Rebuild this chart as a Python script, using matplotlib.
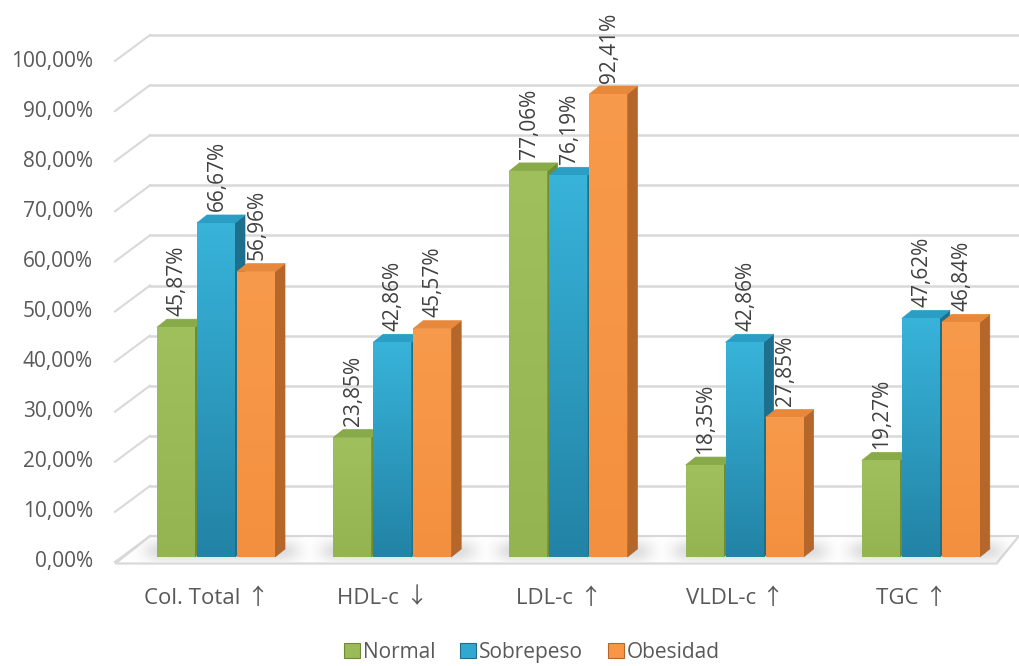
import numpy as np
import matplotlib
matplotlib.use("Agg")
import matplotlib.pyplot as plt
from matplotlib.patches import Polygon, Patch
from matplotlib.colors import to_rgb
from matplotlib.offsetbox import TextArea, HPacker, AnnotationBbox

plt.rcParams['font.family'] = ['Open Sans', 'DejaVu Sans']

# ---- data -------------------------------------------------------------
categories = ["Col. Total", "HDL-c", "LDL-c", "VLDL-c", "TGC"]
category_arrows = ["\u2191", "\u2193", "\u2191", "\u2191", "\u2191"]
series_names = ["Normal", "Sobrepeso", "Obesidad"]
normal = [45.87, 23.85, 77.06, 18.35, 19.27]
sobrepeso = [66.67, 42.86, 76.19, 42.86, 47.62]
obesidad = [56.96, 45.57, 92.41, 27.85, 46.84]
y_ticks = [0, 10, 20, 30, 40, 50, 60, 70, 80, 90, 100]

series = [normal, sobrepeso, obesidad]

# ---- styling ----------------------------------------------------------
front_grad = [("#a0c05d", "#93b451"), ("#38b3da", "#2283a5"), ("#f89a4b", "#f3903f")]
top_col = ["#88aa48", "#2b9ec6", "#e7883b"]
side_col = ["#6e8b35", "#1d6f8c", "#b5662a"]
legend_col = ["#9bbb59", "#31a8d0", "#f79646"]
text_col = "#595959"
grid_col = "#d9d9d9"
FS = 15

W, H, DPI = 10.19, 6.66, 100
fig = plt.figure(figsize=(W, H), dpi=DPI)
ax = fig.add_axes([0, 0, 1, 1])

# one x unit = one category, one y unit = one percentage point
px_x = 176.2
px_y = 5.01
x0_px, y0_px = 216.0, 557.0
ax.set_xlim(-x0_px / px_x, (W * DPI - x0_px) / px_x)
ax.set_ylim((y0_px - H * DPI) / px_y, y0_px / px_y)
ax.axis("off")

# perspective offsets (data units)
back_dx, back_dy = -66 / px_x, 21 / px_y       # back wall vs bar base
side_dx, side_dy = -101 / px_x, -5 / px_y      # front edge of side wall
depth_dx, depth_dy = 10 / px_x, 8 / px_y       # bar depth
bar_step, bar_w = 40 / px_x, 38 / px_x
xmax = ax.get_xlim()[1]

# ---- walls & floor ----------------------------------------------------
floor = Polygon([(side_dx + 0.002, side_dy - 0.3), (4.43, side_dy - 0.3),
                 (xmax, back_dy), (back_dx, back_dy)],
                closed=True, facecolor="white", edgecolor=grid_col, lw=1.6, zorder=1)
ax.add_patch(floor)

for v in y_ticks:
    if v > 0:
        ax.plot([back_dx, xmax], [v + back_dy, v + back_dy], color=grid_col, lw=1.8, zorder=0.5)
    ax.plot([side_dx, back_dx], [v + side_dy, v + back_dy], color=grid_col, lw=1.5, zorder=0.5)
    ax.text(side_dx - 22 / px_x, v + side_dy, f"{v:.2f}".replace(".", ",") + "%",
            ha="right", va="center", fontsize=FS, color=text_col)

# soft shadow of the bar groups on the floor
gx = np.linspace(back_dx - 0.3, xmax, 900)
gy = np.linspace(side_dy, back_dy, 60)
GX, GY = np.meshgrid(gx, gy)
alpha = np.zeros_like(GX)
for i in range(len(categories)):
    left = i - 1.5 * bar_step
    right = i + 1.5 * bar_step + depth_dx
    sx = 1 / (1 + np.exp(-(GX - (left - 0.05)) / 0.03)) * 1 / (1 + np.exp((GX - (right + 0.06)) / 0.03))
    sy = np.exp(-((GY - 1.2) / 2.2) ** 2)
    alpha = np.maximum(alpha, 0.28 * sx * sy)
shadow = np.zeros(GX.shape + (4,))
shadow[..., :3] = 0.5
shadow[..., 3] = alpha
im = ax.imshow(shadow, extent=(gx[0], gx[-1], gy[0], gy[-1]), origin="lower",
               aspect="auto", zorder=1.2, interpolation="bilinear")
im.set_clip_path(floor)

# ---- bars -------------------------------------------------------------
def gradient_face(poly_pts, c_top, c_bot, z):
    poly = Polygon(poly_pts, closed=True, facecolor="none", edgecolor="none", zorder=z)
    ax.add_patch(poly)
    ys = np.array([p[1] for p in poly_pts])
    xs = np.array([p[0] for p in poly_pts])
    t = np.linspace(0, 1, 128)[:, None]
    ct, cb = np.array(to_rgb(c_top)), np.array(to_rgb(c_bot))
    img = cb[None, None, :] * (1 - t[..., None]) + ct[None, None, :] * t[..., None]
    img = np.repeat(img, 2, axis=1)
    g = ax.imshow(img, extent=(xs.min(), xs.max(), ys.min(), ys.max()), origin="lower",
                  aspect="auto", zorder=z, interpolation="bilinear")
    g.set_clip_path(poly)

for i in range(len(categories)):
    for s, vals in enumerate(series):
        v = vals[i]
        xl = i + (s - 1.5) * bar_step + (bar_step - bar_w) / 2
        xr = xl + bar_w
        z = 2 + s * 0.1
        # right side face
        ax.add_patch(Polygon([(xr, 0), (xr + depth_dx, depth_dy), (xr + depth_dx, v + depth_dy), (xr, v)],
                             closed=True, facecolor=side_col[s], edgecolor=side_col[s], lw=0.5, zorder=z))
        # top face
        ax.add_patch(Polygon([(xl, v), (xr, v), (xr + depth_dx, v + depth_dy), (xl + depth_dx, v + depth_dy)],
                             closed=True, facecolor=top_col[s], edgecolor=top_col[s], lw=0.5, zorder=z))
        # front face
        gradient_face([(xl, 0), (xr, 0), (xr, v), (xl, v)], front_grad[s][0], front_grad[s][1], z + 0.01)
        # value label
        ax.text((xl + xr) / 2 + 1 / px_x, v + depth_dy + 0.7, f"{v:.2f}".replace(".", ",") + "%",
                rotation=90, ha="center", va="bottom", fontsize=FS, color="#404040", zorder=5)

# category labels: name followed by a full-width arrow
for i, (c, arr) in enumerate(zip(categories, category_arrows)):
    name = TextArea(c + " ", textprops=dict(fontsize=FS + 1, color=text_col, family=["Open Sans"]))
    arrow = TextArea(arr, textprops=dict(fontsize=FS + 1, color=text_col,
                                         family=["Noto Sans CJK JP", "DejaVu Sans"]))
    box = HPacker(children=[name, arrow], align="baseline", pad=0, sep=0)
    ab = AnnotationBbox(box, (i - 10 / px_x, -40 / px_y), xycoords="data", frameon=False,
                        box_alignment=(0.5, 0.5), pad=0)
    ax.add_artist(ab)

handles = [Patch(facecolor=legend_col[k], edgecolor=side_col[k], lw=0.8) for k in range(3)]
fig.legend(handles, series_names, loc="center", bbox_to_anchor=(0.522, 0.021), ncol=3,
           frameon=False, fontsize=FS, handlelength=0.75, handleheight=0.75,
           handletextpad=0.15, columnspacing=1.2, labelcolor=text_col)

fig.savefig("out.png", dpi=DPI)
